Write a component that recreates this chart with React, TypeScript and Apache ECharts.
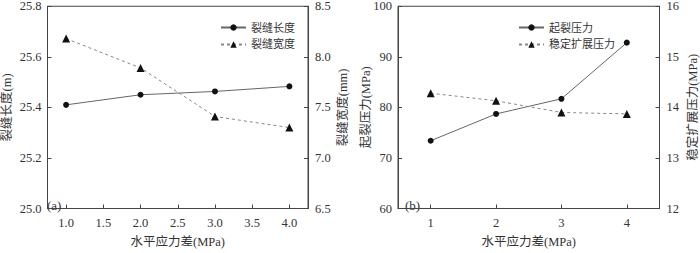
import React, { useEffect, useRef } from "react";
import * as echarts from "echarts";

const xA = [1.0, 2.0, 3.0, 4.0];
const lengthA = [25.41, 25.45, 25.463, 25.483];
const widthA = [8.18, 7.89, 7.41, 7.3];
const xTicksA = [1.0, 1.5, 2.0, 2.5, 3.0, 3.5, 4.0];

const xB = [1, 2, 3, 4];
const initB = [73.4, 78.7, 81.7, 92.8];
const stableB = [14.28, 14.13, 13.9, 13.87];
const xTicksB = [1, 2, 3, 4];

const FONT = "'Liberation Serif', 'Times New Roman', 'Noto Sans CJK SC', serif";
const AX = "#444";
const TXT = "#333";

function yAxisBase(extra: any) {
  return {
    type: "value",
    nameLocation: "middle",
    nameRotate: 90,
    nameMoveOverlap: false,
    nameTextStyle: { fontFamily: FONT, fontSize: 12.5, color: TXT },
    axisLine: { show: true, lineStyle: { color: AX, width: 1 } },
    axisTick: { show: true, inside: true, length: 4, lineStyle: { color: AX } },
    axisLabel: { fontFamily: FONT, fontSize: 12.5, color: TXT, margin: 6 },
    splitLine: { show: false },
    ...extra,
  };
}

export default function App() {
  const ref = useRef<HTMLDivElement>(null);
  useEffect(() => {
    const chart = echarts.init(ref.current!, null, { renderer: "svg" });
    const option: any = {
      animation: false,
      backgroundColor: "#fff",
      grid: [
        { left: 41, right: 392, top: 5, bottom: 32, show: true, borderColor: AX, borderWidth: 1 },
        { left: 398, right: 34, top: 5, bottom: 32, show: true, borderColor: AX, borderWidth: 1 },
      ],
      xAxis: [
        {
          type: "value",
          gridIndex: 0,
          min: 0.75,
          max: 4.25,
          name: "水平应力差(MPa)",
          nameLocation: "middle",
          nameGap: 27,
          nameMoveOverlap: false,
          nameTextStyle: { fontFamily: FONT, fontSize: 12.5, color: TXT },
          axisLine: { show: true, lineStyle: { color: AX } },
          axisTick: { show: true, inside: true, length: 4, customValues: xTicksA, lineStyle: { color: AX } },
          axisLabel: { fontFamily: FONT, fontSize: 12.5, color: TXT, margin: 8, customValues: xTicksA, formatter: (v: number) => v.toFixed(1) },
          splitLine: { show: false },
        },
        {
          type: "value",
          gridIndex: 1,
          min: 0.5,
          max: 4.5,
          name: "水平应力差(MPa)",
          nameLocation: "middle",
          nameGap: 27,
          nameMoveOverlap: false,
          nameTextStyle: { fontFamily: FONT, fontSize: 12.5, color: TXT },
          axisLine: { show: true, lineStyle: { color: AX } },
          axisTick: { show: true, inside: true, length: 4, customValues: xTicksB, lineStyle: { color: AX } },
          axisLabel: { fontFamily: FONT, fontSize: 12.5, color: TXT, margin: 8, customValues: xTicksB, formatter: (v: number) => String(v) },
          splitLine: { show: false },
        },
      ],
      yAxis: [
        yAxisBase({ gridIndex: 0, position: "left", min: 25.0, max: 25.8, interval: 0.2, name: "裂缝长度(m)", nameGap: 34, axisLabel: { fontFamily: FONT, fontSize: 12.5, color: TXT, margin: 6, formatter: (v: number) => v.toFixed(1) } }),
        yAxisBase({ gridIndex: 0, position: "right", min: 6.5, max: 8.5, interval: 0.5, name: "裂缝宽度(mm)", nameGap: 29, axisLabel: { fontFamily: FONT, fontSize: 12.5, color: TXT, margin: 7, formatter: (v: number) => v.toFixed(1) } }),
        yAxisBase({ gridIndex: 1, position: "left", min: 60, max: 100, interval: 10, name: "起裂压力(MPa)", nameGap: 26 }),
        yAxisBase({ gridIndex: 1, position: "right", min: 12, max: 16, interval: 1, name: "稳定扩展压力(MPa)", nameGap: 27, axisLabel: { fontFamily: FONT, fontSize: 12.5, color: TXT, margin: 7 } }),
      ],
      legend: [
        {
          orient: "vertical",
          left: 215,
          top: 17,
          itemWidth: 25,
          itemHeight: 8,
          itemGap: 6,
          textStyle: { fontFamily: FONT, fontSize: 11, color: TXT },
          data: ["裂缝长度", "裂缝宽度"],
        },
        {
          orient: "vertical",
          left: 513,
          top: 17,
          itemWidth: 25,
          itemHeight: 8,
          itemGap: 6,
          textStyle: { fontFamily: FONT, fontSize: 11, color: TXT },
          data: ["起裂压力", "稳定扩展压力"],
        },
      ],
      graphic: [
        { type: "text", left: 47, top: 199, style: { text: "(a)", font: `13px ${FONT}`, fill: TXT } },
        { type: "text", left: 405, top: 199, style: { text: "(b)", font: `13px ${FONT}`, fill: TXT } },
      ],
      series: [
        {
          name: "裂缝长度",
          type: "line",
          xAxisIndex: 0,
          yAxisIndex: 0,
          data: xA.map((x, i) => [x, lengthA[i]]),
          symbol: "circle",
          symbolSize: 6,
          itemStyle: { color: "#111" },
          lineStyle: { color: "#666", width: 1 },
        },
        {
          name: "裂缝宽度",
          type: "line",
          xAxisIndex: 0,
          yAxisIndex: 1,
          data: xA.map((x, i) => [x, widthA[i]]),
          symbol: "triangle",
          symbolSize: 8,
          itemStyle: { color: "#111" },
          lineStyle: { color: "#888", width: 1, type: [3, 3] },
        },
        {
          name: "起裂压力",
          type: "line",
          xAxisIndex: 1,
          yAxisIndex: 2,
          data: xB.map((x, i) => [x, initB[i]]),
          symbol: "circle",
          symbolSize: 6,
          itemStyle: { color: "#111" },
          lineStyle: { color: "#666", width: 1 },
        },
        {
          name: "稳定扩展压力",
          type: "line",
          xAxisIndex: 1,
          yAxisIndex: 3,
          data: xB.map((x, i) => [x, stableB[i]]),
          symbol: "triangle",
          symbolSize: 8,
          itemStyle: { color: "#111" },
          lineStyle: { color: "#888", width: 1, type: [3, 3] },
        },
      ],
    };
    chart.setOption(option);
    return () => chart.dispose();
  }, []);
  return <div ref={ref} style={{ position: "fixed", left: 0, top: 0, width: 700, height: 253, background: "#fff" }} />;
}
